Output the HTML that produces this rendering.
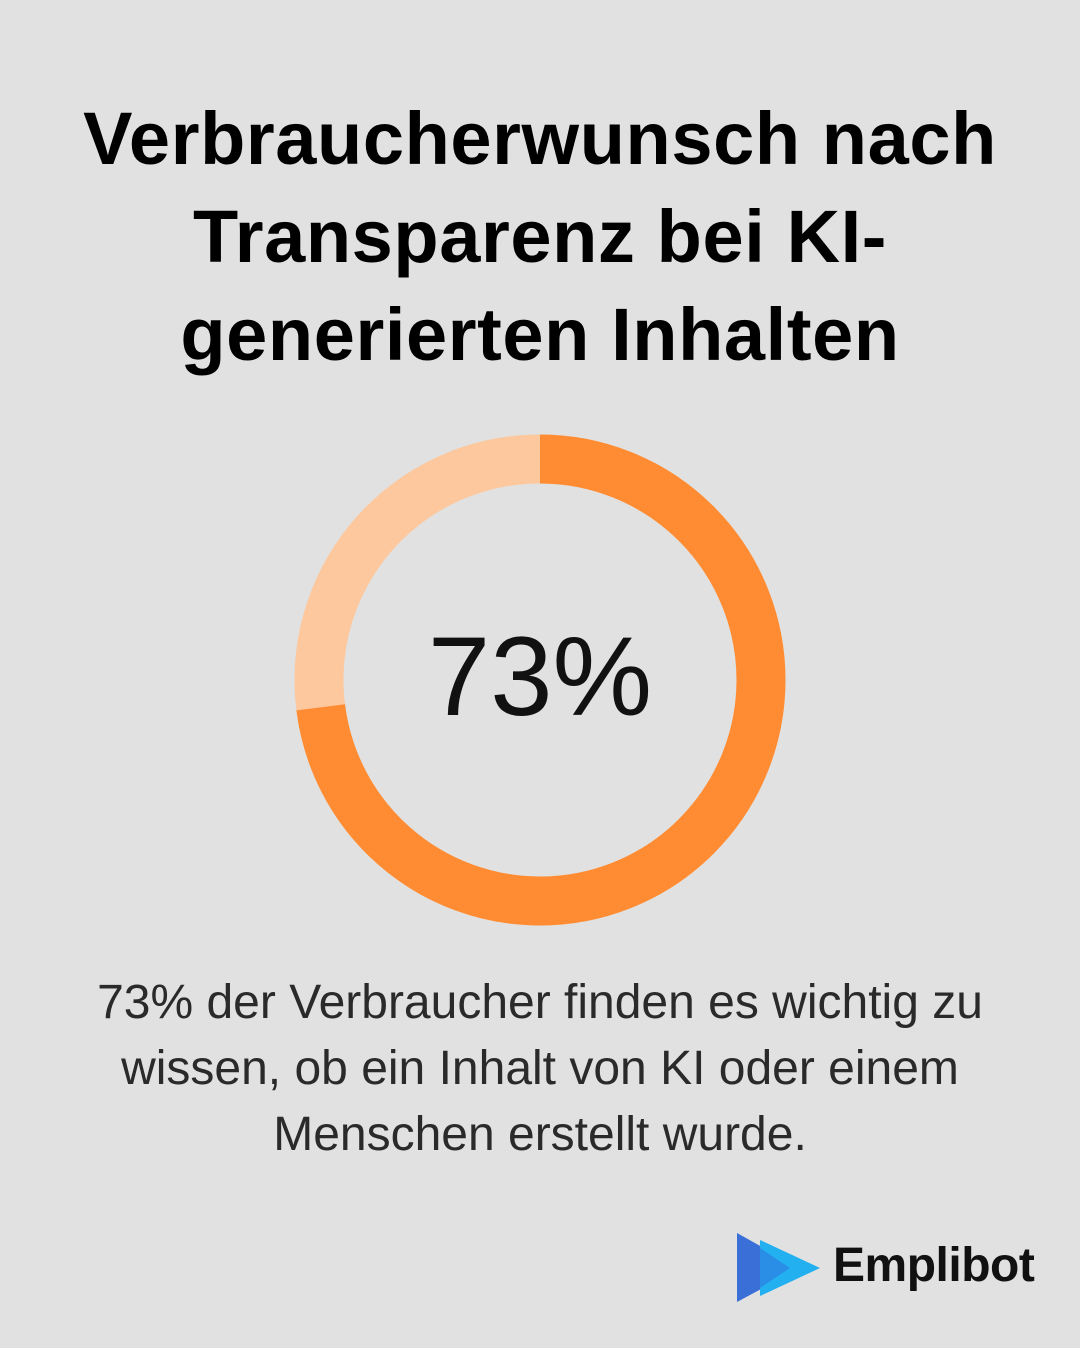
<!DOCTYPE html>
<html><head><meta charset="utf-8"><style>
html,body{margin:0;padding:0}
body{width:1080px;height:1348px;background:#e0e1e0;position:relative;overflow:hidden;font-family:"Liberation Sans",sans-serif;color:#000}
.title{position:absolute;top:90px;left:0;width:1080px;text-align:center;font-weight:bold;font-size:74px;line-height:98px;letter-spacing:0.6px}
.body{position:absolute;top:970px;left:0;width:1080px;text-align:center;font-size:48px;line-height:66px;color:#2a2a2a}
.logo{position:absolute;left:833px;top:1238px;font-weight:bold;font-size:48px;color:#111;letter-spacing:-0.5px}
</style></head><body>
<div class="title">Verbraucherwunsch nach<br>Transparenz bei KI-<br>generierten Inhalten</div>
<svg width="1080" height="1348" style="position:absolute;left:0;top:0">
<circle cx="540" cy="680" r="221" fill="none" stroke="#fdc89e" stroke-width="49"/>
<circle cx="540" cy="680" r="221" fill="none" stroke="#ff8c33" stroke-width="49"
 stroke-dasharray="1013.7 2000" transform="rotate(-90 540 680)"/>
<text x="540" y="715" text-anchor="middle" font-family="Liberation Sans, sans-serif" font-size="112" fill="#111">73%</text>
<polygon points="737,1233 737,1302 800,1268" fill="#3a6fd8"/>
<polygon points="760,1240 760,1296 820,1268" fill="#22b0f0"/>
<polygon points="760,1248 760,1288 790,1268" fill="#2a8ee6"/>
</svg>
<div class="body">73% der Verbraucher finden es wichtig zu<br>wissen, ob ein Inhalt von KI oder einem<br>Menschen erstellt wurde.</div>
<div class="logo">Emplibot</div>
</body></html>
